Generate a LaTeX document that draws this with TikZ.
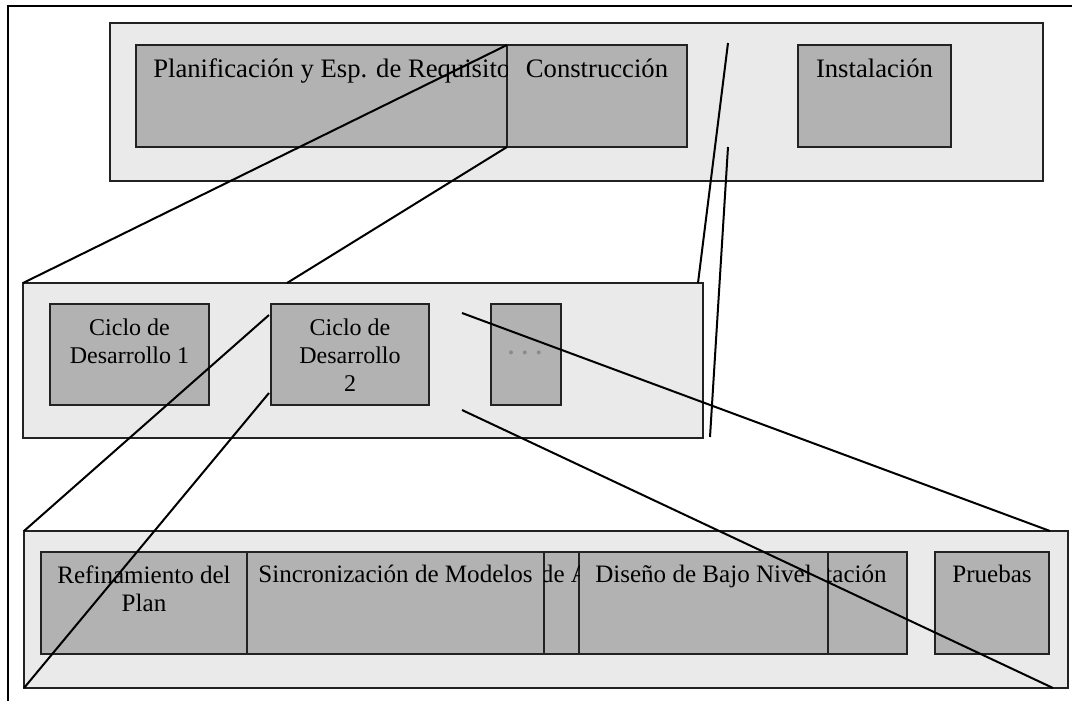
\documentclass[tikz,border=0pt]{standalone}
\usepackage{fontspec}
\setmainfont{Liberation Serif}
\usetikzlibrary{fit}
\definecolor{panelgray}{HTML}{EAEAEA}
\definecolor{stagegray}{HTML}{B2B2B2}
\definecolor{edgegray}{HTML}{222222}
\definecolor{dotgray}{HTML}{8A8A8A}

\begin{document}
\begin{tikzpicture}[x=0.75pt,y=-0.75pt,
  panel/.style={draw=edgegray, fill=panelgray, line width=0.9pt, inner sep=0pt, outer sep=0pt},
  stage/.style={draw=edgegray, fill=stagegray, line width=0.9pt, inner sep=0pt, outer sep=0pt},
  zoomline/.style={draw=black, line width=1.5pt},
  toptext/.style={font=\fontsize{20}{24}\selectfont, inner sep=0pt, anchor=base},
  midtext/.style={font=\fontsize{18}{21}\selectfont, inner sep=0pt, anchor=base},
  lowtext/.style={font=\fontsize{18.8}{22}\selectfont, inner sep=0pt, anchor=base},
]
\fill[white] (0,0) rectangle (1072,701);
\useasboundingbox (0,0) rectangle (1072,701);

% page frame (top and left edges)
\coordinate (frameTR) at (1072,6);
\coordinate (frameTL) at (8,6);
\coordinate (frameBL) at (8,701);
\draw[line width=0.9pt] (frameTR) -- (frameTL) -- (frameBL);

% ---- project phases ----
\node[panel, fit={(110,23) (1043,181)}] (phases) {};
\node[stage, fit={(136,45) (507,147)}] (plan) {};
\node[stage, fit={(507,45) (687,147)}] (constr) {};
\node[stage, fit={(798,45) (951,147)}] (inst) {};
\begin{scope}
  \clip (plan.south west) rectangle (plan.north east);
  \node[toptext, anchor=base west] (planT) at (153,77) {Planificación y Esp. de Requisito};
\end{scope}
\node[toptext] (constrT) at (597,77) {Construcción};
\node[toptext] (instT) at (874.5,77) {Instalación};

% ---- development cycles ----
\node[panel, fit={(23,283) (703,438)}] (cycles) {};
\node[stage, fit={(50,304) (209,405)}] (cyc1) {};
\node[stage, fit={(271,304) (429,405)}] (cyc2) {};
\node[stage, fit={(491,304) (561,405)}] (more) {};
\node[midtext] (cyc1a) at (129.5,335) {Ciclo de};
\node[midtext] (cyc1b) at (129.5,363) {Desarrollo 1};
\node[midtext] (cyc2a) at (350,335) {Ciclo de};
\node[midtext] (cyc2b) at (350,363) {Desarrollo};
\node[midtext] (cyc2c) at (350,391) {2};
\node[midtext, text=dotgray] (moreT) at (525,354) {\textbf{. . .}};

% ---- tasks of a cycle ----
\node[panel, fit={(24,531) (1068,688)}] (tasks) {};
\node[stage, fit={(41,552) (247,654)}] (refin) {};
\node[stage, fit={(247,552) (544,654)}] (sync) {};
\node[stage, fit={(544,552) (579,654)}] (anal) {};
\node[stage, fit={(579,552) (828,654)}] (lowdes) {};
\node[stage, fit={(828,552) (907,654)}] (impl) {};
\node[stage, fit={(935,552) (1049,654)}] (tests) {};
\node[lowtext] (refinA) at (144,583) {Refinamiento del};
\node[lowtext] (refinB) at (144,611) {Plan};
\node[lowtext] (syncT) at (395.5,582) {Sincronización de Modelos};
\begin{scope}
  \clip (anal.south west) rectangle (anal.north east);
  \node[lowtext] (analT) at (565,582) {de A};
\end{scope}
\node[lowtext] (lowdesT) at (703.5,582) {Diseño de Bajo Nivel};
\begin{scope}
  \clip (impl.south west) rectangle (impl.north east);
  \node[lowtext, anchor=base east] (implT) at (887,582) {tación};
\end{scope}
\node[lowtext] (testsT) at (992,582) {Pruebas};

% ---- zoom lines ----
\coordinate (cyTop) at (287,283);
\coordinate (gapTop) at (728,43);
\coordinate (gapBot) at (728,147);
\coordinate (cyNE) at (698,283);
\coordinate (cySE) at (710,437);
\coordinate (c2Top) at (269,315);
\coordinate (c2Bot) at (269,393);
\coordinate (moreTop) at (462,313);
\coordinate (moreBot) at (462,410);
\coordinate (tasksTop) at (1050,531);
\coordinate (tasksBot) at (1053,688);

\draw[zoomline] (plan.north east) -- (cycles.north west);
\draw[zoomline] (plan.south east) -- (cyTop);
\draw[zoomline] (gapTop) -- (cyNE);
\draw[zoomline] (gapBot) -- (cySE);
\draw[zoomline] (c2Top) -- (tasks.north west);
\draw[zoomline] (c2Bot) -- (tasks.south west);
\draw[zoomline] (moreTop) -- (tasksTop);
\draw[zoomline] (moreBot) -- (tasksBot);
\end{tikzpicture}
\end{document}
